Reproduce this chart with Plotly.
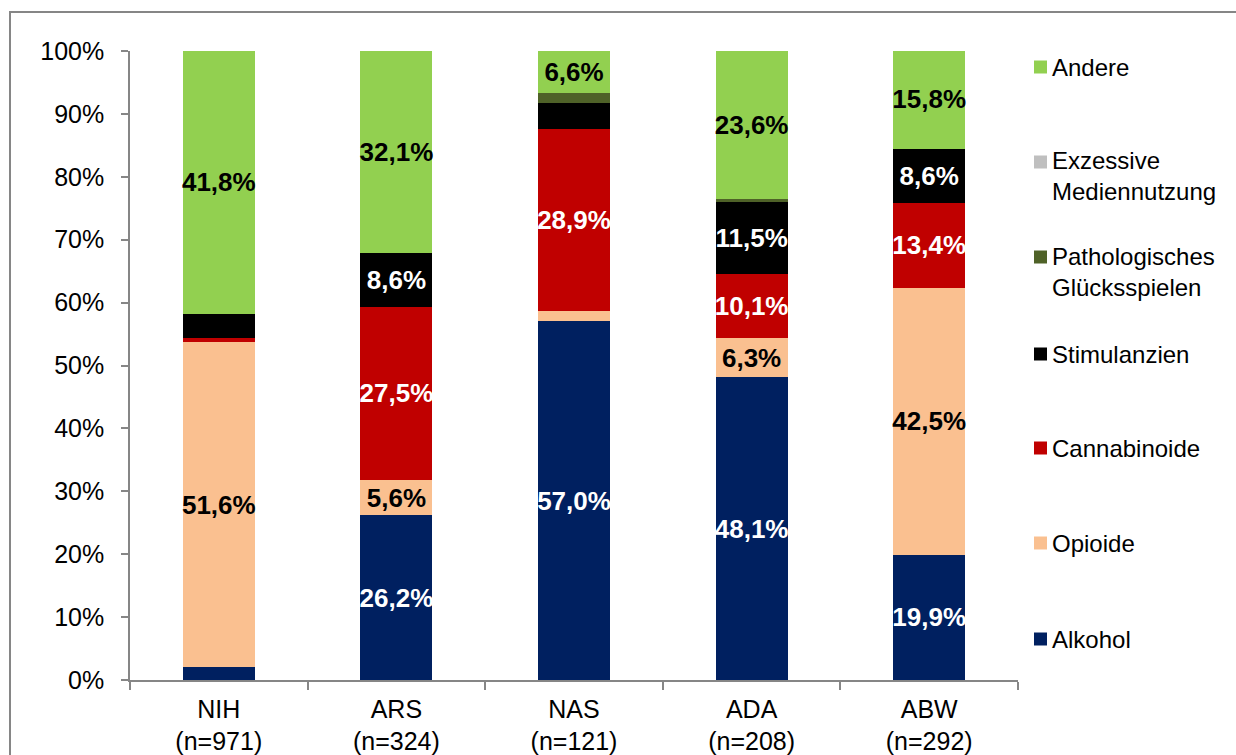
import plotly.graph_objects as go

# Einrichtungen und Fallzahlen
categories = ["NIH<br>(n=971)", "ARS<br>(n=324)", "NAS<br>(n=121)", "ADA<br>(n=208)", "ABW<br>(n=292)"]

# Anteile der Hauptdiagnosen je Einrichtung (in %)
alkohol = [2.1, 26.2, 57.0, 48.1, 19.9]
opioide = [51.6, 5.6, 1.7, 6.3, 42.5]
cannabinoide = [0.6, 27.5, 28.9, 10.1, 13.4]
stimulanzien = [3.9, 8.6, 4.1, 11.5, 8.6]
gluecksspiel = [0.0, 0.0, 1.7, 0.4, 0.0]
medien = [0.0, 0.0, 0.0, 0.0, 0.0]
andere = [41.8, 32.1, 6.6, 23.6, 15.8]

series = [
    ("Alkohol", alkohol, "#002060", "white"),
    ("Opioide", opioide, "#FAC090", "black"),
    ("Cannabinoide", cannabinoide, "#C00000", "white"),
    ("Stimulanzien", stimulanzien, "#000000", "white"),
    ("Pathologisches<br>Glücksspielen", gluecksspiel, "#4F6228", "white"),
    ("Exzessive<br>Mediennutzung", medien, "#BFBFBF", "black"),
    ("Andere", andere, "#92D050", "black"),
]

FONT = "Liberation Sans, Arial, sans-serif"
W, H = 1236, 755
L, R, T, B = 130, 1018, 51, 680  # plot area in pixels


def px_x(x):
    return (x - L) / (R - L)


def px_y(y):
    return (B - y) / (B - T)


def fmt(v):
    return (f"{v:.1f}%".replace(".", ",")) if v >= 5 else ""


fig = go.Figure()
for name, vals, color, tcolor in series:
    fig.add_trace(go.Bar(
        x=categories, y=vals, name=name.replace("<br>", " "),
        marker=dict(color=color, line=dict(width=0)),
        text=[fmt(v) for v in vals],
        textposition="inside", insidetextanchor="middle", textangle=0,
        constraintext="none",
        textfont=dict(family=FONT, size=26, color=tcolor, weight="bold"),
        showlegend=False, hoverinfo="skip",
    ))

# Legend drawn on the right, top entry first
legend_rows = [
    ("Andere", 67, 67),
    ("Exzessive<br>Mediennutzung", 162, 176),
    ("Pathologisches<br>Glücksspielen", 257, 272),
    ("Stimulanzien", 354, 354),
    ("Cannabinoide", 448, 448),
    ("Opioide", 543, 543),
    ("Alkohol", 639, 639),
]
colors = {s[0]: s[2] for s in series}
shapes = []
annotations = []
for name, ysq, ytxt in legend_rows:
    shapes.append(dict(type="rect", xref="paper", yref="paper",
                       x0=px_x(1034), x1=px_x(1047), y0=px_y(ysq + 6.5), y1=px_y(ysq - 6.5),
                       fillcolor=colors[name], line=dict(width=0)))
    annotations.append(dict(xref="paper", yref="paper", x=px_x(1050), y=px_y(ytxt),
                            xanchor="left", yanchor="middle", align="left", showarrow=False,
                            text=name, font=dict(family=FONT, size=24, color="black")))

# Outer frame
shapes.append(dict(type="rect", xref="paper", yref="paper",
                   x0=px_x(10), x1=px_x(1260), y0=px_y(780), y1=px_y(12),
                   line=dict(color="#868686", width=2), fillcolor="rgba(0,0,0,0)", layer="below"))

fig.update_layout(
    width=W, height=H, barmode="stack", bargap=0.595,
    margin=dict(l=L, r=W - R, t=T, b=H - B, pad=0, autoexpand=False),
    paper_bgcolor="white", plot_bgcolor="white",
    font=dict(family=FONT, size=24, color="black"),
    uniformtext=dict(mode="show", minsize=26),
    shapes=shapes, annotations=annotations,
    xaxis=dict(showline=True, linecolor="#868686", linewidth=1.5, automargin=False,
               ticks="outside", tickson="boundaries", ticklen=8, tickcolor="#868686", tickwidth=1.5,
               ticklabelstandoff=6,
               tickfont=dict(family=FONT, size=25, color="black"), showgrid=False, zeroline=False),
    yaxis=dict(range=[0, 100], dtick=10, ticksuffix="%", showline=True, linecolor="#868686",
               linewidth=1.5, ticks="outside", ticklen=7, tickcolor="#868686", tickwidth=1.5,
               ticklabelstandoff=12, automargin=False,
               tickfont=dict(family=FONT, size=25, color="black"), showgrid=False, zeroline=False),
)

fig.write_html("out.html")
